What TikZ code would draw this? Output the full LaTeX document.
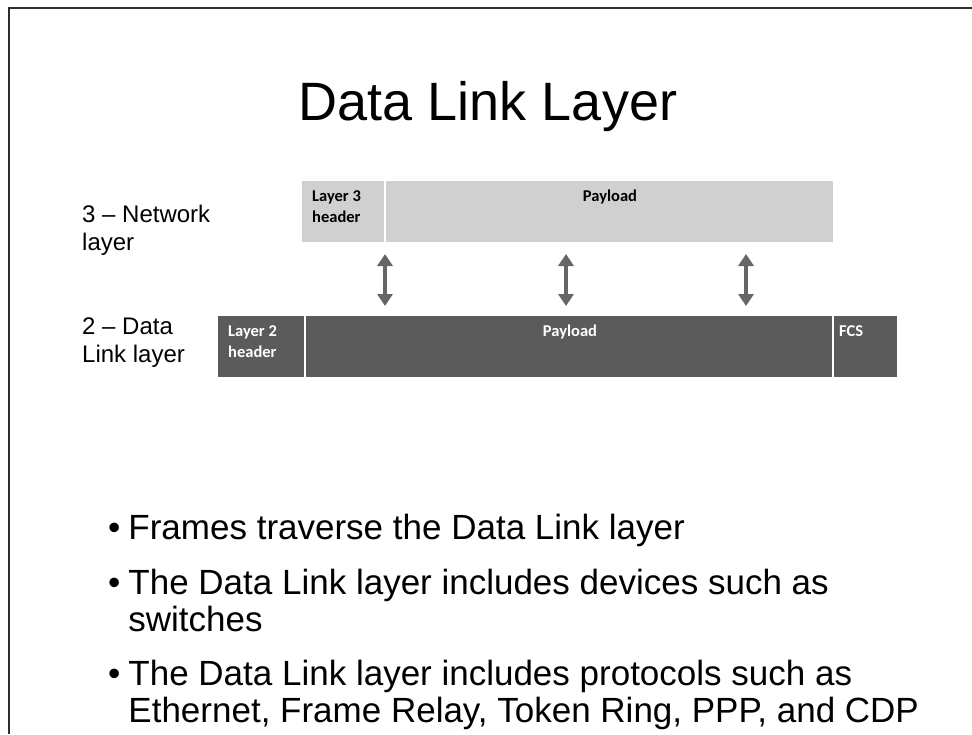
\documentclass[tikz,border=0pt]{standalone}
\usepackage{fontspec}
\setmainfont{Liberation Sans}
\newfontfamily\boxfont{Carlito}
\usetikzlibrary{arrows.meta,calc}

\definecolor{framecol}{HTML}{2E2E2E}
\definecolor{lightbox}{HTML}{D0D0D0}
\definecolor{darkbox}{HTML}{5B5B5B}
\definecolor{arrowgray}{HTML}{666666}

\tikzset{
  pdu/.style={rectangle, inner sep=0pt, anchor=north west, draw=none},
  l3cell/.style={pdu, fill=lightbox},
  l2cell/.style={pdu, fill=darkbox},
  celltext/.style={inner sep=0pt, font=\boxfont\bfseries\fontsize{16.5}{21}\selectfont, align=left},
  sidetext/.style={inner sep=0pt, anchor=north west, align=left, font=\fontsize{24}{28}\selectfont},
  bullettext/.style={inner sep=0pt, anchor=base west, font=\fontsize{35}{37}\selectfont},
  updown/.style={draw=arrowgray, line width=4.5pt,
    {Triangle[width=15pt,length=12pt]}-{Triangle[width=15pt,length=12pt]}},
}

\begin{document}
\begin{tikzpicture}[x=1pt,y=1pt]
  \useasboundingbox (0,0) rectangle (972,-734);
  \fill[white] (0,0) rectangle (972,-734);

  % slide frame
  \draw[framecol, line width=2.5pt] (9,-734) -- (9,-8) -- (972,-8);

  % title
  \node[inner sep=0pt, anchor=base, font=\fontsize{54}{60}\selectfont] (title) at (488,-120) {Data Link Layer};

  % layer names
  \node[sidetext] (netlbl) at (82,-205) {3 – Network\\layer};
  \node[sidetext] (dllbl) at (82,-318) {2 – Data\\Link layer};

  % layer 3 packet
  \node[l3cell, minimum width=82pt, minimum height=61pt] (l3hdr) at (302,-181) {};
  \node[l3cell, minimum width=447pt, minimum height=61pt] (l3pay) at (386,-181) {};
  \node[celltext, anchor=north west, text=black] (l3hdrtxt) at (312,-190) {Layer 3\\header};
  \node[celltext, anchor=base, text=black] (l3paytxt) at (610,-201) {Payload};

  % layer 2 frame
  \node[l2cell, minimum width=86pt, minimum height=61pt] (l2hdr) at (218,-316) {};
  \node[l2cell, minimum width=526pt, minimum height=61pt] (l2pay) at (306,-316) {};
  \node[l2cell, minimum width=63pt, minimum height=61pt] (l2fcs) at (834,-316) {};
  \node[celltext, anchor=north west, text=white] (l2hdrtxt) at (228,-325) {Layer 2\\header};
  \node[celltext, anchor=base, text=white] (l2paytxt) at (570,-336) {Payload};
  \node[celltext, anchor=base west, text=white] (l2fcstxt) at (839,-336) {FCS};

  % encapsulation arrows
  \coordinate (a1t) at (385,-254); \coordinate (a1b) at (385,-306);
  \coordinate (a2t) at (566,-254); \coordinate (a2b) at (566,-306);
  \coordinate (a3t) at (746,-254); \coordinate (a3b) at (746,-306);
  \draw[updown] (a1t) -- (a1b);
  \draw[updown] (a2t) -- (a2b);
  \draw[updown] (a3t) -- (a3b);

  % bullet list
  \node[bullettext] (b1) at (108,-538) {\begin{tabular}{@{}l@{\hspace{8pt}}l@{}}•&Frames traverse the Data Link layer\end{tabular}};
  \node[bullettext] (b2) at (108,-594) {\begin{tabular}[t]{@{}l@{\hspace{8pt}}l@{}}•&The Data Link layer includes devices such as\\&switches\end{tabular}};
  \node[bullettext] (b3) at (108,-685) {\begin{tabular}[t]{@{}l@{\hspace{8pt}}l@{}}•&The Data Link layer includes protocols such as\\&Ethernet, Frame Relay, Token Ring, PPP, and CDP\end{tabular}};
\end{tikzpicture}
\end{document}
